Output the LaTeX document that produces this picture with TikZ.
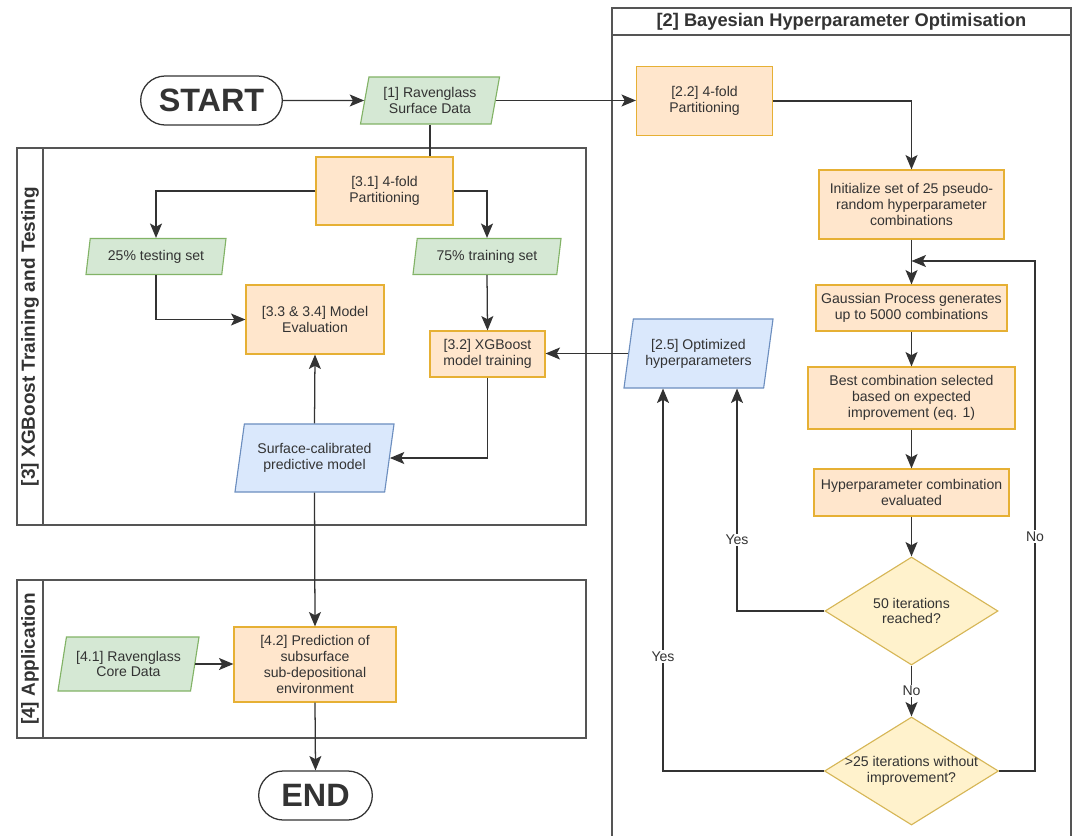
\documentclass[tikz,border=0pt]{standalone}
\usepackage{fontspec}
\setmainfont{Liberation Sans}
\usetikzlibrary{shapes.geometric,shapes.misc,arrows.meta,calc}

\definecolor{ink}{HTML}{333333}
\definecolor{lanegray}{HTML}{555555}
\definecolor{orfill}{HTML}{FFE6CC}
\definecolor{orline}{HTML}{E6B034}
\definecolor{grfill}{HTML}{D5E8D4}
\definecolor{grline}{HTML}{82B366}
\definecolor{blfill}{HTML}{DAE8FC}
\definecolor{blline}{HTML}{6C8EBF}
\definecolor{yefill}{HTML}{FFF2CC}
\definecolor{yeline}{HTML}{D6B656}

\tikzset{
  base/.style={font=\fontsize{10}{11.2}\selectfont, text=ink, align=center, line width=0.8pt},
  procbox/.style={base, rectangle, draw=orline, fill=orfill, inner sep=2pt},
  databox/.style={base, trapezium, trapezium left angle=72, trapezium right angle=108,
    trapezium stretches body, inner xsep=0pt, inner ysep=0pt},
  indata/.style={databox, draw=grline, fill=grfill},
  outdata/.style={databox, draw=blline, fill=blfill},
  decision/.style={base, diamond, aspect=1.6, inner sep=-6pt, draw=yeline, fill=yefill},
  terminal/.style={rounded rectangle, draw=ink, line width=0.9pt, text=ink,
    font=\fontsize{23}{26}\selectfont\bfseries, minimum height=1.225cm},
  lane/.style={draw=lanegray, line width=1pt},
  lanetitle/.style={font=\fontsize{13.5}{15}\selectfont\bfseries, text=ink},
  link/.style={draw=ink, line width=0.9pt},
  arr/.style={link, -{Stealth[length=0.36cm,width=0.3cm,inset=0.08cm]}},
  lbl/.style={base, fill=white, inner sep=1pt},
}

\begin{document}
\begin{tikzpicture}[x=0.025cm, y=-0.025cm]
  \useasboundingbox (0,0) rectangle (1076,835);

  % swimlanes
  \draw[lane] (17,148) rectangle (586,525);
  \draw[lane] (43,148) -- (43,525);
  \node[lanetitle, rotate=90] (lane3) at (30,336.5) {[3] XGBoost Training and Testing};
  \draw[lane] (17,580) rectangle (586,738);
  \draw[lane] (43,580) -- (43,738);
  \node[lanetitle, rotate=90] (lane4) at (30,659) {[4] Application};
  \draw[lane] (612,840) -- (612,8) -- (1071,8) -- (1071,840);
  \draw[lane] (612,35) -- (1071,35);
  \node[lanetitle, font=\fontsize{13}{15}\selectfont\bfseries] (lane2) at (841.5,21.5) {[2] Bayesian Hyperparameter Optimisation};

  % left column
  \node[terminal, minimum width=3.775cm] (start) at (211.5,100.5) {START};
  \node[indata, minimum width=3.475cm, minimum height=1.175cm] (surf) at (430,100.5) {[1] Ravenglass\\Surface Data};
  \node[procbox, minimum width=3.425cm, minimum height=1.7cm] (part31) at (384.5,191) {[3.1] 4-fold\\Partitioning};
  \node[indata, minimum width=3.5cm, minimum height=0.9cm] (test) at (156,256.5) {25\% testing set};
  \node[indata, minimum width=3.7cm, minimum height=0.9cm] (train) at (487,256.5) {75\% training set};
  \node[procbox, minimum width=3.45cm, minimum height=1.725cm] (eval) at (315,319.5) {[3.3 \& 3.4] Model\\Evaluation};
  \node[procbox, minimum width=2.875cm, minimum height=1.15cm] (xgb) at (487.5,354) {[3.2] XGBoost\\model training};
  \node[outdata, minimum width=3.975cm, minimum height=1.7cm] (model) at (314.5,458) {Surface-calibrated\\predictive model};
  \node[indata, minimum width=3.525cm, minimum height=1.35cm] (core) at (128.5,664) {[4.1] Ravenglass\\Core Data};
  \node[procbox, minimum width=4.05cm, minimum height=1.875cm] (pred) at (315,664.5) {[4.2] Prediction of\\subsurface\\sub-depositional\\environment};
  \node[terminal, minimum width=3.075cm] (end) at (315.5,795.5) {END};

  % right column
  \node[procbox, minimum width=3.4cm, minimum height=1.725cm] (part22) at (704.5,101) {[2.2] 4-fold\\Partitioning};
  \node[procbox, minimum width=4.625cm, minimum height=1.725cm] (init) at (911.5,204.5) {Initialize set of 25 pseudo-\\random hyperparameter\\combinations};
  \node[procbox, minimum width=4.775cm, minimum height=1.15cm] (gauss) at (911.5,308) {Gaussian Process generates\\up to 5000 combinations};
  \node[procbox, minimum width=5.175cm, minimum height=1.55cm] (best) at (911.5,398) {Best combination selected\\based on expected\\improvement (eq. 1)};
  \node[procbox, minimum width=4.875cm, minimum height=1.175cm] (evalhp) at (911.5,492.5) {Hyperparameter combination\\evaluated};
  \node[outdata, minimum width=3.725cm, minimum height=1.725cm] (optim) at (698.5,353.5) {[2.5] Optimized\\hyperparameters};
  \node[decision, minimum width=4.325cm, minimum height=2.7cm] (maxit) at (911.5,611) {50 iterations\\reached?};
  \node[decision, minimum width=4.35cm, minimum height=2.7cm] (stall) at (911.5,771) {>25 iterations without\\improvement?};
  \coordinate (loop) at (911.5,261);

  % connectors
  \draw[arr] (start) -- (surf);
  \draw[arr] (surf.east) -- (surf.east -| part22.west);
  \draw[link] (surf.south) -- (surf.south |- part31.north);
  \draw[arr] (part31.west) -| (test.north);
  \draw[arr] (part31.east) -| (train.north);
  \draw[arr] (test.south) |- (eval.west);
  \draw[arr] (train.south) -- (xgb.north);
  \draw[arr] (optim.west) -- (optim.west -| xgb.east);
  \draw[arr] (xgb.south) |- (model.east);
  \draw[arr] (model.north) -- (eval.south);
  \draw[arr] (model.south) -- (pred.north);
  \draw[arr] (core.east) -- (core.east -| pred.west);
  \draw[arr] (pred.south) -- (end.north);

  \draw[arr] (part22.east) -| (init.north);
  \draw[arr] (init.south) -- (gauss.north);
  \draw[arr] (gauss) -- (best);
  \draw[arr] (best) -- (evalhp);
  \draw[arr] (evalhp) -- (maxit);
  \draw[arr] (maxit) -- node[lbl] {No} (stall);
  \draw[arr] (maxit.west) -| node[lbl, pos=0.66] {Yes} ($(optim.south)+(38.5,0)$);
  \draw[arr] (stall.west) -| node[lbl, pos=0.65] {Yes} ($(optim.south)+(-35.5,0)$);
  \draw[arr] (stall.east) -| node[lbl, pos=0.73] {No} ($(loop)+(123.5,0)$) -- (loop);
\end{tikzpicture}
\end{document}
